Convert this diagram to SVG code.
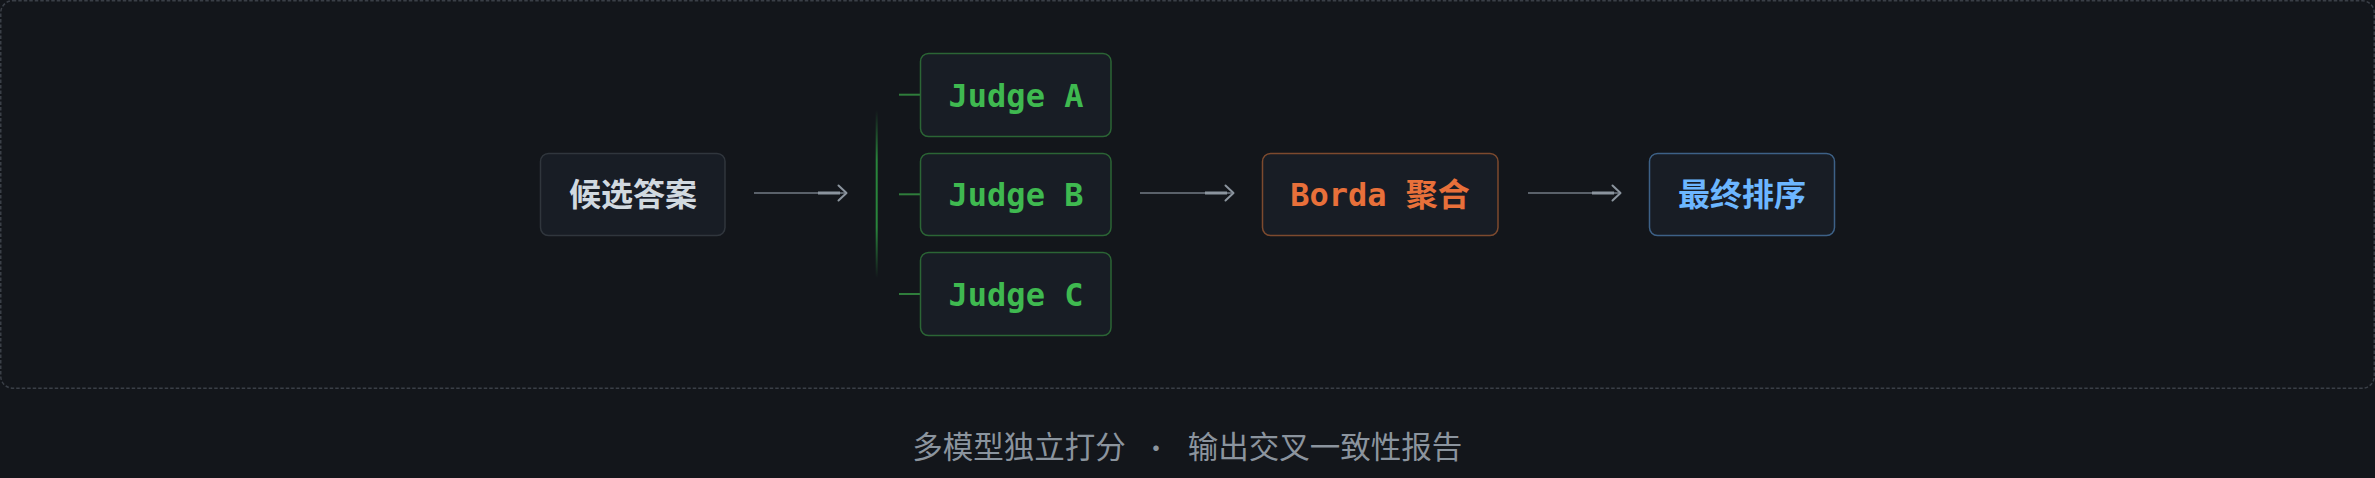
<svg xmlns="http://www.w3.org/2000/svg" width="2375" height="478" viewBox="0 0 2375 478">
<defs>
<style>
.box{fill:#181d25;stroke-width:1.5}
.cjk{font-family:"Noto Sans CJK SC","Noto Sans",sans-serif;font-weight:700;font-size:32px;text-anchor:middle}
.mono{font-family:"DejaVu Sans Mono","Noto Sans CJK SC",monospace;font-weight:700;font-size:32px;text-anchor:middle}
.judge rect{stroke:#2b6535}
.judge text{fill:#3fb950}
.stub{stroke:#2f7d3b;stroke-width:2}
.aline{stroke:#737b86;stroke-width:1.5;fill:none}
.ahi{stroke:#8b949e;stroke-width:3;fill:none}
.ahead{stroke:#8b949e;stroke-width:2;fill:none;stroke-linecap:round;stroke-linejoin:round}
.cap{font-family:"Noto Sans CJK SC","Noto Sans",sans-serif;font-size:30.5px;fill:#8b949e;text-anchor:middle}
</style>
<linearGradient id="vg" x1="0" y1="0" x2="0" y2="1">
<stop offset="0" stop-color="#2ea043" stop-opacity="0"/>
<stop offset="0.3" stop-color="#2ea043" stop-opacity="0.8"/>
<stop offset="0.7" stop-color="#2ea043" stop-opacity="0.8"/>
<stop offset="1" stop-color="#2ea043" stop-opacity="0"/>
</linearGradient>
</defs>
<rect x="0" y="0" width="2375" height="478" fill="#13161b"/>
<rect id="frame" x="0.75" y="0.75" width="2373.5" height="387.5" rx="12" fill="none" stroke="#3a3f47" stroke-width="1.5" stroke-dasharray="3.5 2"/>

<g id="connectors">
  <g id="arrow1">
    <line class="aline" x1="754" y1="193" x2="845" y2="193"/>
    <line class="ahi" x1="818" y1="193" x2="840" y2="193"/>
    <polyline class="ahead" points="838.5,185.5 846.5,193 838.5,200.5"/>
  </g>
  <rect id="fan" x="875.7" y="110" width="2" height="168" fill="url(#vg)"/>
  <line class="stub" x1="899" y1="94.7" x2="920.5" y2="94.7"/>
  <line class="stub" x1="899" y1="194.3" x2="920.5" y2="194.3" stroke-width="3"/>
  <line class="stub" x1="899" y1="294" x2="920.5" y2="294"/>
  <g id="arrow2">
    <line class="aline" x1="1140" y1="193" x2="1232" y2="193"/>
    <line class="ahi" x1="1205" y1="193" x2="1227" y2="193"/>
    <polyline class="ahead" points="1225.5,185.5 1233.5,193 1225.5,200.5"/>
  </g>
  <g id="arrow3">
    <line class="aline" x1="1528" y1="193" x2="1619" y2="193"/>
    <line class="ahi" x1="1592" y1="193" x2="1614" y2="193"/>
    <polyline class="ahead" points="1612.5,185.5 1620.5,193 1612.5,200.5"/>
  </g>
</g>

<g id="candidates">
  <rect class="box" x="540.5" y="153.5" width="184.5" height="82" rx="8" stroke="#30363d"/>
  <text class="cjk" x="633" y="205.5" fill="#d1d9e0">候选答案</text>
</g>

<g id="judgeA" class="judge">
  <rect class="box" x="920.5" y="53.5" width="190.5" height="83" rx="8"/>
  <text class="mono" x="1016" y="106.5">Judge A</text>
</g>
<g id="judgeB" class="judge">
  <rect class="box" x="920.5" y="153.5" width="190.5" height="82" rx="8"/>
  <text class="mono" x="1016" y="206">Judge B</text>
</g>
<g id="judgeC" class="judge">
  <rect class="box" x="920.5" y="252.5" width="190.5" height="83" rx="8"/>
  <text class="mono" x="1016" y="305.5">Judge C</text>
</g>

<g id="borda">
  <rect class="box" x="1262.5" y="153.5" width="235.5" height="82" rx="8" stroke="#7d4a2e"/>
  <text class="mono" x="1380" y="205.5" fill="#e8703a">Borda 聚合</text>
</g>

<g id="final">
  <rect class="box" x="1649.5" y="153.5" width="185" height="82" rx="8" stroke="#3d6187"/>
  <text class="cjk" x="1742" y="205.5" fill="#6cb6ff">最终排序</text>
</g>

<g id="caption">
  <text class="cap" y="458"><tspan x="1019">多模型独立打分</tspan><tspan x="1156" font-size="26">·</tspan><tspan x="1325">输出交叉一致性报告</tspan></text>
</g>
</svg>
